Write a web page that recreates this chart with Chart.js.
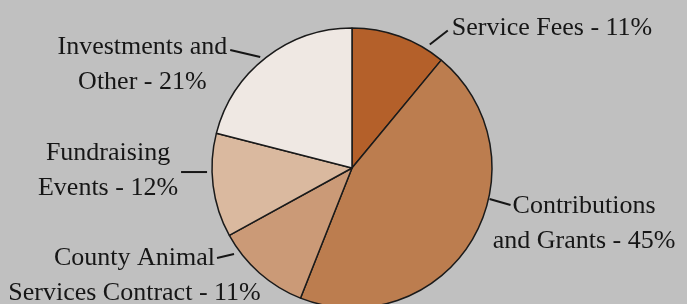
<!DOCTYPE html>
<html>
<head>
<meta charset="utf-8">
<script src="https://cdn.jsdelivr.net/npm/chart.js@4.4.1/dist/chart.umd.min.js"></script>
<style>
  html, body { margin: 0; padding: 0; background: #c0c0c0; overflow: hidden; height: 304px; }
  canvas { display: block; }
</style>
</head>
<body>
<!-- canvas is a bit taller than the window: the pie runs off the bottom edge -->
<canvas id="revenue-pie" width="687" height="312"></canvas>
<script>
// revenue sources, clockwise from 12 o'clock
var categories = [
  ["Service Fees"],
  ["Contributions", "and Grants"],
  ["County Animal", "Services Contract"],
  ["Fundraising", "Events"],
  ["Investments and", "Other"]
];
var shares = [11, 45, 11, 12, 21];
var sliceColors = ["#b4602a", "#bc7d4f", "#cb9a77", "#dab99f", "#efe8e3"];

// where each callout leaves the pie (deg clockwise from top) and how the text hangs off it
var callouts = [
  { angle: 32.2, gap: 6, dx: 18, dy: -14, side: "right", attach: 0, shift: -2, pad: 4 },
  { angle: 102.7, gap: 1, dx: 21, dy: 6, side: "right", attach: 0, shift: 1, pad: 2 },
  { angle: 233.9, gap: 6, dx: -17, dy: 4, side: "left", attach: 0, shift: 0, pad: 2 },
  { angle: 268.4, gap: 5, dx: -26, dy: 0, side: "left", attach: "mid", shift: -1, pad: 3 },
  { angle: 320.4, gap: 4, dx: -30, dy: -7, side: "left", attach: 0, shift: -3, pad: 3 }
];

// last line of each label carries the percentage
var labels = categories.map(function (lines, i) {
  var out = lines.slice();
  out[out.length - 1] += " - " + shares[i] + "%";
  return out;
});

var calloutPlugin = {
  id: "callouts",
  afterDatasetsDraw: function (chart) {
    var ctx = chart.ctx;
    var arc = chart.getDatasetMeta(0).data[0];
    var cx = arc.x, cy = arc.y, r = arc.outerRadius;
    var lh = 35;
    ctx.save();
    ctx.font = "26px 'Liberation Serif', serif";
    ctx.fillStyle = "#161616";
    ctx.strokeStyle = "#161616";
    ctx.lineWidth = 2;
    ctx.textAlign = "center";
    ctx.textBaseline = "middle";
    chart.data.labels.forEach(function (lines, i) {
      var c = callouts[i];
      var a = c.angle * Math.PI / 180;
      var sx = cx + (r + c.gap) * Math.sin(a);
      var sy = cy - (r + c.gap) * Math.cos(a);
      var ex = sx + c.dx, ey = sy + c.dy;
      ctx.beginPath();
      ctx.moveTo(sx, sy);
      ctx.lineTo(ex, ey);
      ctx.stroke();

      var widths = lines.map(function (t) { return ctx.measureText(t).width; });
      var maxW = Math.max.apply(null, widths);
      var w = c.attach === "mid" ? maxW : widths[c.attach];
      var bcx = c.side === "right" ? ex + c.pad + w / 2 : ex - c.pad - w / 2;
      var y0 = c.attach === "mid"
        ? ey + c.shift - (lines.length - 1) * lh / 2
        : ey + c.shift - c.attach * lh;
      lines.forEach(function (t, k) {
        ctx.fillText(t, bcx, y0 + k * lh);
      });
    });
    ctx.restore();
  }
};

var config = {
  type: "pie",
  data: {
    labels: labels,
    datasets: [
      {
        data: shares,
        backgroundColor: sliceColors,
        borderColor: "#1a1a1a",
        borderWidth: 1.5
      }
    ]
  },
  options: {
    responsive: false,
    animation: false,
    layout: { padding: { left: 211.25, right: 194.25, top: 27.25, bottom: 3.25 } },
    plugins: {
      legend: { display: false },
      tooltip: { enabled: false }
    }
  },
  plugins: [calloutPlugin]
};

window.addEventListener("load", function () {
  var ctx = document.getElementById("revenue-pie");
  new Chart(ctx, config);
});
</script>
</body>
</html>
